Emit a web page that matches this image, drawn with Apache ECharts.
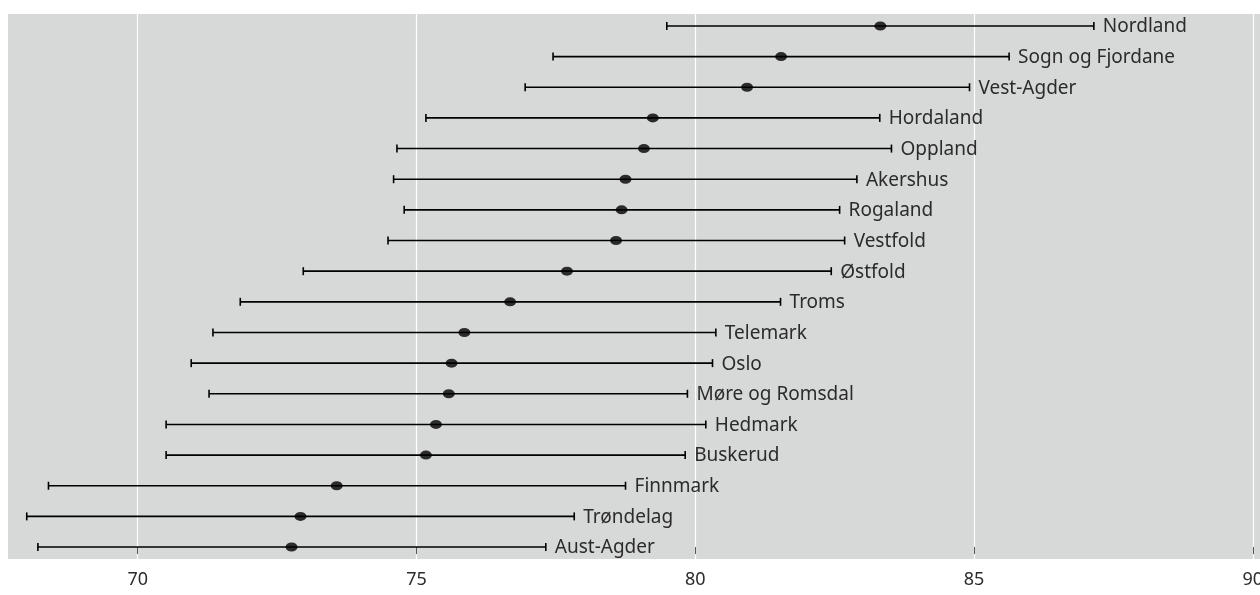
<!DOCTYPE html>
<html>
<head>
<meta charset="utf-8">
<script src="https://cdn.jsdelivr.net/npm/echarts@6/dist/echarts.min.js"></script>
<style>
html,body{margin:0;padding:0;background:#fff;overflow:hidden;width:100%;height:100%;}
#chart{width:1260px;height:595px;}
</style>
</head>
<body>
<div id="chart"></div>
<script>
// Regions, listed top to bottom
const regions = ["Nordland","Sogn og Fjordane","Vest-Agder","Hordaland","Oppland","Akershus","Rogaland","Vestfold","Østfold","Troms","Telemark","Oslo","Møre og Romsdal","Hedmark","Buskerud","Finnmark","Trøndelag","Aust-Agder"];
const lower = [79.49,77.45,76.95,75.17,74.65,74.59,74.78,74.49,72.97,71.84,71.35,70.96,71.28,70.51,70.51,68.40,68.01,68.21];
const mean  = [83.32,81.54,80.93,79.24,79.08,78.75,78.68,78.58,77.70,76.68,75.86,75.63,75.58,75.35,75.17,73.57,72.92,72.76];
const upper = [87.15,85.63,84.92,83.31,83.52,82.90,82.59,82.68,82.44,81.53,80.37,80.31,79.86,80.19,79.82,78.75,77.83,77.32];
const xTicks = [70,75,80,85,90];

const n = regions.length;
const barData = regions.map((r,i)=>[n-1-i, lower[i], upper[i]]);
const pointData = regions.map((r,i)=>[mean[i], n-1-i]);

const FONT = '"Noto Sans", sans-serif';
const chart = echarts.init(document.getElementById('chart'), null, {renderer:'canvas', width:1260, height:595});

function renderItem(params, api){
  const y = api.value(0);
  const lo = api.coord([api.value(1), y]);
  const hi = api.coord([api.value(2), y]);
  const cap = 4;
  const st = {stroke:'#000', lineWidth:1.6};
  return {type:'group', children:[
    {type:'line', shape:{x1:lo[0],y1:lo[1],x2:hi[0],y2:hi[1]}, style:st},
    {type:'line', shape:{x1:lo[0],y1:lo[1]-cap,x2:lo[0],y2:lo[1]+cap}, style:st},
    {type:'line', shape:{x1:hi[0],y1:hi[1]-cap,x2:hi[0],y2:hi[1]+cap}, style:st},
    {type:'text', style:{x:hi[0]+9, y:hi[1]+1, text:regions[params.dataIndex], fill:'#2b2b2b', fontSize:19, fontFamily:FONT, align:'left', verticalAlign:'middle'}}
  ]};
}

chart.setOption({
  animation:false,
  grid:{left:8,right:0,top:14,bottom:36,show:true,backgroundColor:'#d7d8d8',borderWidth:0,containLabel:false,outerBoundsMode:'none'},
  xAxis:{
    type:'value', min:67.674, max:90.13,
    axisLine:{show:false},
    axisTick:{show:true, customValues:xTicks, length:7, lineStyle:{color:'#555',width:1}},
    axisLabel:{show:true, customValues:xTicks, color:'#2b2b2b', fontSize:18, fontFamily:FONT, margin:12, showMaxLabel:true, showMinLabel:true},
    splitLine:{show:true, lineStyle:{color:'#ffffff', width:1.2}}
  },
  yAxis:{
    type:'value', min:-0.39, max:17.39,
    axisLine:{show:false}, axisTick:{show:false}, axisLabel:{show:false}, splitLine:{show:false}
  },
  series:[
    {type:'custom', renderItem:renderItem, data:barData, encode:{x:[1,2], y:0}, z:2},
    {type:'scatter', data:pointData, symbol:'circle', symbolSize:[12,9], itemStyle:{color:'#000'}, z:3}
  ]
});
</script>
</body>
</html>
